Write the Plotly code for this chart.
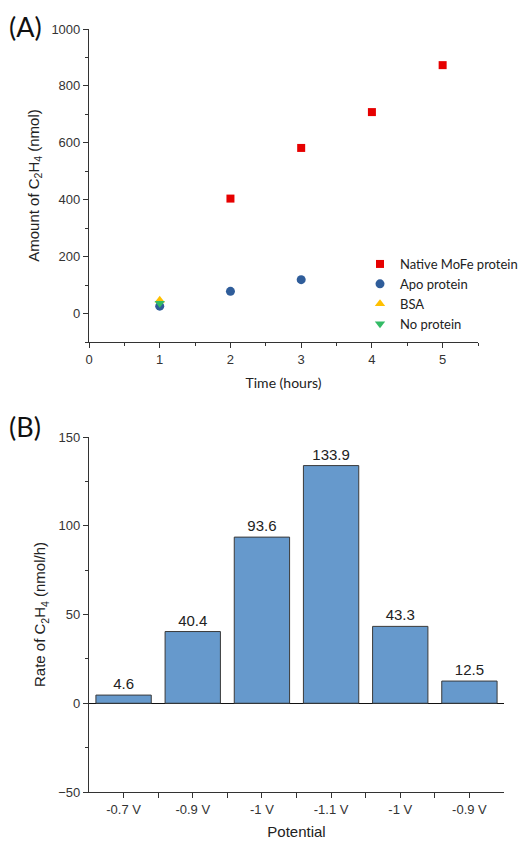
import plotly.graph_objects as go

# Panel A data
native_t = [2, 3, 4, 5]
native_v = [404, 582, 708, 873]
apo_t = [1, 2, 3]
apo_v = [26, 78, 119]
bsa_t = [1]
bsa_v = [47]
noprot_t = [1]
noprot_v = [36]

# Panel B data
potentials = ["-0.7 V", "-0.9 V", "-1 V", "-1.1 V", "-1 V", "-0.9 V"]
rates = [4.6, 40.4, 93.6, 133.9, 43.3, 12.5]
positions = list(range(len(potentials)))

W, H = 523, 841
def px_x(p): return p / W
def px_y(p): return 1 - p / H

AX = "#333333"
fig = go.Figure()

fig.add_trace(go.Scatter(x=native_t, y=native_v, mode="markers", name="Native MoFe protein",
                         marker=dict(symbol="square", size=8, color="#E60000"), xaxis="x", yaxis="y"))
fig.add_trace(go.Scatter(x=apo_t, y=apo_v, mode="markers", name="Apo protein",
                         marker=dict(symbol="circle", size=9, color="#2F5D9A"), xaxis="x", yaxis="y"))
fig.add_trace(go.Scatter(x=bsa_t, y=bsa_v, mode="markers", name="BSA",
                         marker=dict(symbol="triangle-up", size=9, color="#FFC000"), xaxis="x", yaxis="y"))
fig.add_trace(go.Scatter(x=noprot_t, y=noprot_v, mode="markers", name="No protein",
                         marker=dict(symbol="triangle-down", size=9, color="#33BB66"), xaxis="x", yaxis="y"))

fig.add_trace(go.Bar(x=positions, y=rates, width=0.8, showlegend=False,
                     marker=dict(color="#6699CC", line=dict(color="#3A3A3A", width=1)),
                     text=[f"{r}" for r in rates], textposition="outside", cliponaxis=False,
                     textfont=dict(family="Liberation Sans, Arial", size=15, color="#222222"),
                     xaxis="x2", yaxis="y2"))

tickfont = dict(family="Liberation Sans, Arial", size=13, color=AX)
axis_common = dict(showline=True, linecolor=AX, linewidth=1.2, ticks="outside", ticklen=5,
                   tickcolor=AX, tickwidth=1.2, showgrid=False, tickfont=tickfont, mirror=False,
                   automargin=False)

fig.update_layout(
    width=W, height=H, margin=dict(l=0, r=0, t=0, b=0, autoexpand=False),
    plot_bgcolor="white", paper_bgcolor="white",
    xaxis=dict(domain=[px_x(89), px_x(478)], range=[0, 5.5], tickvals=[0, 1, 2, 3, 4, 5],
               minor=dict(ticks="outside", ticklen=3, dtick=0.5, tick0=0, tickcolor=AX),
               zeroline=False, anchor="y",
               title=dict(text="Time (hours)", font=dict(family="Lato, Open Sans", size=14, color="#222"), standoff=12),
               **axis_common),
    yaxis=dict(domain=[px_y(342), px_y(29)], range=[-100, 1000], tickvals=[0, 200, 400, 600, 800, 1000],
               minor=dict(ticks="outside", ticklen=3, dtick=100, tick0=0, tickcolor=AX),
               zeroline=False, anchor="x",
               title=dict(text="Amount of C<sub>2</sub>H<sub>4</sub> (nmol)",
                          font=dict(family="Liberation Sans, Arial", size=15, color="#222"), standoff=8),
               **axis_common),
    xaxis2=dict(domain=[px_x(89), px_x(504)], range=[-0.5, 5.5], tickvals=positions, ticktext=potentials,
                minor=dict(ticks="outside", ticklen=5, tickvals=[0.5, 1.5, 2.5, 3.5, 4.5], tickcolor=AX),
                zeroline=False, anchor="y2",
                title=dict(text="Potential", font=dict(family="Liberation Sans, Arial", size=15, color="#222"), standoff=10),
                **axis_common),
    yaxis2=dict(domain=[px_y(792), px_y(437)], range=[-50, 150], tickvals=[-50, 0, 50, 100, 150],
                minor=dict(ticks="outside", ticklen=3, dtick=25, tick0=0, tickcolor=AX),
                zeroline=True, zerolinecolor="#111111", zerolinewidth=1.3, anchor="x2",
                title=dict(text="Rate of C<sub>2</sub>H<sub>4</sub> (nmol/h)",
                           font=dict(family="Liberation Sans, Arial", size=15, color="#222"), standoff=8),
                **axis_common),
    legend=dict(x=px_x(360), y=px_y(249), xanchor="left", yanchor="top", bgcolor="rgba(0,0,0,0)",
                font=dict(family="Lato, Open Sans", size=13, color="#222"), itemwidth=30, tracegroupgap=0),
    showlegend=True,
    bargap=0.2,
)

fig.add_annotation(text="(A)", x=px_x(7), y=px_y(27), xref="paper", yref="paper", xanchor="left", yanchor="middle",
                   showarrow=False, font=dict(family="Lato, Open Sans", size=27, color="#111"))
fig.add_annotation(text="(B)", x=px_x(7), y=px_y(426), xref="paper", yref="paper", xanchor="left", yanchor="middle",
                   showarrow=False, font=dict(family="Lato, Open Sans", size=27, color="#111"))

fig.write_html("out.html", config={"displayModeBar": False},
               post_script="document.body.style.margin='0';document.body.style.overflow='hidden';")
